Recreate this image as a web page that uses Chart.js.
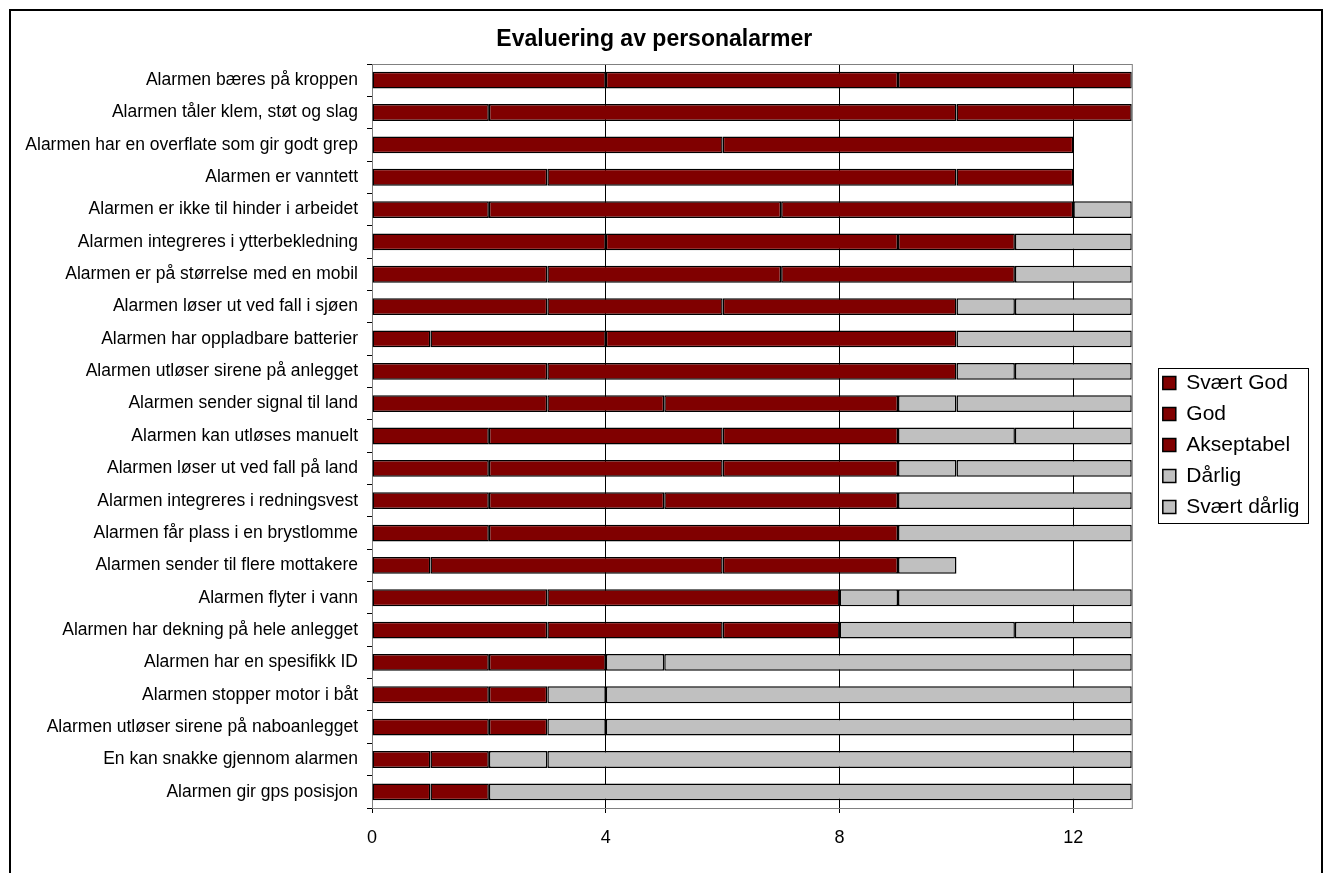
<!DOCTYPE html>
<html>
<head>
<meta charset="utf-8">
<script src="https://cdn.jsdelivr.net/npm/chart.js@4.4.0/dist/chart.umd.min.js"></script>
<style>
html, body { margin: 0; padding: 0; background: #fff; }
#wrap { width: 1330px; height: 873px; }
</style>
</head>
<body>
<div id="wrap"><canvas id="myChart"></canvas></div>
<script>
const etiquetas = [
    "Alarmen bæres på kroppen",
    "Alarmen tåler klem, støt og slag",
    "Alarmen har en overflate som gir godt grep",
    "Alarmen er vanntett",
    "Alarmen er ikke til hinder i arbeidet",
    "Alarmen integreres i ytterbekledning",
    "Alarmen er på størrelse med en mobil",
    "Alarmen løser ut ved fall i sjøen",
    "Alarmen har oppladbare batterier",
    "Alarmen utløser sirene på anlegget",
    "Alarmen sender signal til land",
    "Alarmen kan utløses manuelt",
    "Alarmen løser ut ved fall på land",
    "Alarmen integreres i redningsvest",
    "Alarmen får plass i en brystlomme",
    "Alarmen sender til flere mottakere",
    "Alarmen flyter i vann",
    "Alarmen har dekning på hele anlegget",
    "Alarmen har en spesifikk ID",
    "Alarmen stopper motor i båt",
    "Alarmen utløser sirene på naboanlegget",
    "En kan snakke gjennom alarmen",
    "Alarmen gir gps posisjon",
];

const svaertGod    = [4, 2, 6, 3, 2, 4, 3, 3, 1, 3, 3, 2, 2, 2, 2, 1, 3, 3, 2, 2, 2, 1, 1];
const god          = [5, 8, 6, 7, 5, 5, 4, 3, 3, 7, 2, 4, 4, 3, 7, 5, 5, 3, 2, 1, 1, 1, 1];
const akseptabel   = [4, 3, 0, 2, 5, 2, 4, 4, 6, 0, 4, 3, 3, 4, 0, 3, 0, 2, 0, 0, 0, 0, 0];
const darlig       = [0, 0, 0, 0, 1, 2, 2, 1, 3, 1, 1, 2, 1, 4, 4, 1, 1, 3, 1, 1, 1, 1, 0];
const svaertDarlig = [0, 0, 0, 0, 0, 0, 0, 2, 0, 2, 3, 2, 3, 0, 0, 0, 4, 2, 8, 9, 9, 10, 11];

const xTicks = [0, 4, 8, 12];
const xMax = 13;

const morkRod = "#800000";
const gra = "#C0C0C0";
const font = "'Liberation Sans', Arial, sans-serif";

const serie = (label, data, farge) => ({
    label: label,
    data: data,
    backgroundColor: farge,
    borderColor: "#000",
    borderWidth: 1.5,
    borderSkipped: false,
    barPercentage: 0.52,
    categoryPercentage: 1,
});

// ramme rundt diagrammet, plottområdet og forklaringen
const ramme = {
    id: "ramme",
    afterLayout(chart) {
        const lg = chart.legend;
        const w = lg.right - lg.left;
        lg.left = chart.chartArea.right + 21;
        lg.right = lg.left + w;
        lg.top += 9; lg.bottom += 9;
    },
    beforeDatasetsDraw(chart) {
        const { ctx, chartArea: a } = chart;
        ctx.save();
        ctx.strokeStyle = "#808080";
        ctx.lineWidth = 1;
        ctx.strokeRect(a.left + 0.5, a.top + 0.5, a.right - a.left, a.bottom - a.top);
        ctx.restore();
    },
    afterDraw(chart) {
        const ctx = chart.ctx;
        ctx.save();
        ctx.strokeStyle = "#000";
        ctx.lineWidth = 2;
        ctx.strokeRect(10, 10, 1312, 900);
        const hb = chart.legend.legendHitBoxes;
        if (hb && hb.length) {
            const l = hb[0].left - 5;
            const t = hb[0].top - 5;
            const r = Math.max(...hb.map(h => h.left + h.width)) + 8;
            const last = hb[hb.length - 1];
            const b = last.top + last.height + 5;
            ctx.lineWidth = 1;
            ctx.strokeStyle = "#000";
            ctx.strokeRect(Math.round(l) + 0.5, Math.round(t) + 0.5, Math.round(r - l), Math.round(b - t));
        }
        ctx.restore();
    },
};

const ctx = document.getElementById("myChart");
new Chart(ctx, {
    type: "bar",
    data: {
        labels: etiquetas,
        datasets: [
            serie("Svært God", svaertGod, morkRod),
            serie("God", god, morkRod),
            serie("Akseptabel", akseptabel, morkRod),
            serie("Dårlig", darlig, gra),
            serie("Svært dårlig", svaertDarlig, gra),
        ],
    },
    options: {
        indexAxis: "y",
        responsive: true,
        maintainAspectRatio: false,
        animation: false,
        layout: { padding: { top: 12, left: 20, right: 41.5, bottom: 25 } },
        scales: {
            x: {
                stacked: true,
                min: 0,
                max: xMax,
                afterFit: (s) => { s.height = 40; },
                afterBuildTicks: (s) => { s.ticks = xTicks.map(v => ({ value: v })); },
                ticks: {
                    includeBounds: false,
                    padding: 14,
                    color: "#000",
                    font: { family: font, size: 18 },
                },
                grid: { color: "#000", lineWidth: 1, tickLength: 5 },
                border: { color: "#808080" },
            },
            y: {
                stacked: true,
                afterFit: (s) => { s.width = 352; },
                ticks: {
                    padding: 9,
                    color: "#000",
                    autoSkip: false,
                    font: { family: font, size: 17.5 },
                },
                grid: { drawOnChartArea: false, color: "#000", tickLength: 5 },
                border: { color: "#808080" },
            },
        },
        plugins: {
            title: {
                display: true,
                text: "Evaluering av personalarmer",
                color: "#000",
                font: { family: font, size: 23, weight: "bold", lineHeight: 1.2 },
                padding: { top: 14, bottom: 10.4 },
            },
            legend: {
                position: "right",
                fullSize: false,
                labels: {
                    color: "#000",
                    boxWidth: 13,
                    boxHeight: 13,
                    padding: 10,
                    font: { family: font, size: 21 },
                },
            },
            tooltip: { enabled: false },
        },
    },
    plugins: [ramme],
});
</script>
</body>
</html>
